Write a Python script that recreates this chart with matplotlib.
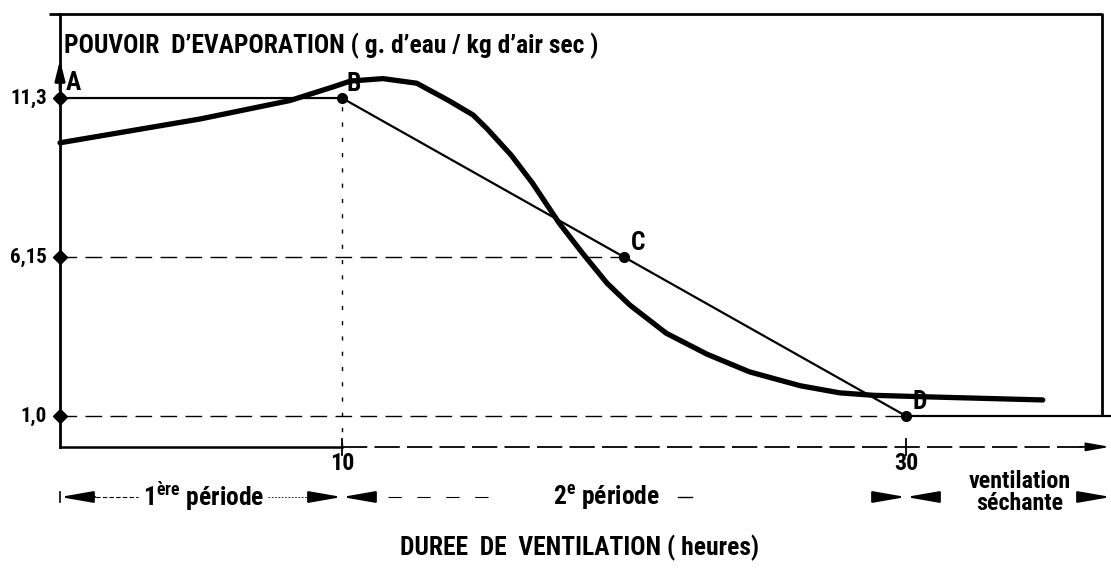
import matplotlib
matplotlib.use("Agg")
import matplotlib.pyplot as plt
from matplotlib import font_manager as fm

# ---------------- data ----------------
# thin piecewise line A-B-C-D then horizontal
line_x = [0, 10, 20, 30, 37.3]
line_y = [11.3, 11.3, 6.15, 1.0, 1.0]
point_x = [0, 10, 20, 30]
point_y = [11.3, 11.3, 6.15, 1.0]
point_labels = ["A", "B", "C", "D"]

# thick curve (measured evaporation power)
curve_x = [0, 4.96, 8.16, 9.68, 10.3, 11.45, 12.65, 13.8, 14.65, 15.15, 16.0,
           16.75, 17.7, 18.55, 19.4, 20.2, 21.5, 22.95, 24.45, 26.25,
           27.65, 28.85, 30.75, 34.85]
curve_y = [9.85, 10.62, 11.22, 11.66, 11.85, 11.93, 11.78, 11.21, 10.75, 10.3, 9.45,
           8.55, 7.25, 6.25, 5.3, 4.6, 3.68, 3.0, 2.43, 1.98,
           1.75, 1.67, 1.62, 1.52]

ytick_vals = [11.3, 6.15, 1.0]
ytick_labels = ["11,3", "6,15", "1,0"]
xtick_vals = [10, 30]
xtick_labels = ["10", "30"]

# ---------------- font choice ----------------
avail = fm.fontManager.ttflist
names = {f.name for f in avail}
FONT = ["DejaVu Sans"]
STRETCH = "normal"
for cand in ["Liberation Sans Narrow", "DejaVu Sans Condensed", "Roboto Condensed",
             "Open Sans Condensed"]:
    if cand in names:
        FONT = [cand, "DejaVu Sans"]
        break
else:
    if any(f.name == "DejaVu Sans" and str(f.stretch) in ("condensed", "semi-condensed")
           for f in avail):
        STRETCH = "condensed"

# ---------------- figure ----------------
W, H = 1111, 573
fig = plt.figure(figsize=(W / 100, H / 100), dpi=100)
ax = fig.add_axes([0, 0, 1, 1])
PX_X = 28.2     # pixels per hour
PX_Y = 30.87    # pixels per g/kg
X0 = 60         # pixel of x=0
Y1 = 416        # pixel (from top) of y=1.0
ax.set_xlim(-X0 / PX_X, (W - X0) / PX_X)
ax.set_ylim(1 - (H - Y1) / PX_Y, 1 + Y1 / PX_Y)
ax.axis("off")

def px(xp):
    return (xp - X0) / PX_X

def py(yp):
    return 1 + (Y1 - yp) / PX_Y

tk = dict(family=FONT, fontweight="bold", color="black", fontstretch=STRETCH)
texts = []

def T(x, y, s, size, **kw):
    t = ax.text(x, y, s, fontsize=size, **tk, **kw)
    texts.append((t, size))
    return t

# frame (box) around the plot
ax.plot([px(49), px(1102), px(1102)], [py(14), py(14), 1.0],
        color="black", lw=2, solid_capstyle="butt")

# y axis with arrow
ax.plot([0, 0], [0, py(14)], color="black", lw=2)
ax.annotate("", xy=(0, py(60)), xytext=(0, py(90)),
            arrowprops=dict(arrowstyle="-|>,head_length=1.2,head_width=0.3",
                            color="black", lw=2, shrinkA=0, shrinkB=0))

# x axis
ax.plot([0, 10], [0, 0], color="black", lw=1.8)
ax.plot([10, px(1095)], [0, 0], color="black", lw=1.3, dashes=(14, 4))
ax.annotate("", xy=(px(1110), 0), xytext=(px(1080), 0),
            arrowprops=dict(arrowstyle="-|>,head_length=1.4,head_width=0.25",
                            color="black", lw=1.3, shrinkA=0, shrinkB=0))
for xv, lab in zip(xtick_vals, xtick_labels):
    ax.plot([xv, xv], [-0.25, 0.25], color="black", lw=1.3)
    T(xv, py(463), lab, 16, ha="center", va="center")

# guide lines
ax.plot([0, 20], [6.15, 6.15], color="black", lw=1.0, dashes=(12, 6))
ax.plot([0, 30], [1.0, 1.0], color="black", lw=1.0, dashes=(12, 6))
ax.plot([10, 10], [0, 11.3], color="black", lw=1.0, dashes=(3, 8))

# y tick labels with markers on axis
for yv, lab in zip(ytick_vals, ytick_labels):
    ax.plot([0], [yv], marker="D", ms=7, color="black")
    T(px(47), yv, lab, 14, ha="right", va="center")

# thin line A-B-C-D
ax.plot(line_x, line_y, color="black", lw=1.6)
ax.plot(point_x, point_y, "o", ms=7, color="black")

# thick curve
ax.plot(curve_x, curve_y, color="black", lw=3.8, solid_capstyle="round",
        solid_joinstyle="round")

# point labels
lab_off = {"A": (6, -15), "B": (4, -14), "C": (7, -14), "D": (6, -14)}
for xv, yv, lab in zip(point_x, point_y, point_labels):
    dx, dy = lab_off[lab]
    T(xv + dx / PX_X, yv - dy / PX_Y, lab, 17, ha="left", va="center")

# y-axis title
title = T(px(64), py(46), "POUVOIR  D\u2019EVAPORATION ( g. d\u2019eau / kg d\u2019air sec )",
          17, ha="left", va="center")

# period annotations
yrow = py(497)
ahead = "-|>,head_length=2.0,head_width=0.35"
def arrow(tip, tail):
    ax.annotate("", xy=(tip, yrow), xytext=(tail, yrow),
                arrowprops=dict(arrowstyle=ahead, color="black", lw=1.5,
                                shrinkA=0, shrinkB=0))

# period 1
ax.plot([0, 0], [yrow - 0.15, yrow + 0.15], color="black", lw=1.2)
arrow(0, px(95))
ax.plot([px(89), px(138)], [yrow, yrow], color="black", lw=0.8, dashes=(4, 2))
T(px(143), yrow, "1$^{\\mathregular{\u00e8re}}$ p\u00e9riode", 17, ha="left", va="center")
ax.plot([px(268), px(312)], [yrow, yrow], color="black", lw=0.6, dashes=(2, 2))
arrow(10, px(318))
# period 2
arrow(10, px(372))
ax.plot([px(388), px(500)], [yrow, yrow], color="black", lw=0.8, dashes=(12, 14))
T(px(553), yrow, "2$^{\\mathregular{e}}$ p\u00e9riode", 17, ha="left", va="center")
ax.plot([px(678), px(692)], [yrow, yrow], color="black", lw=1.0)
arrow(30, px(880))
# period 3
arrow(30, px(936))
T(px(1020), py(482), "ventilation", 16, ha="center", va="center")
T(px(1020), py(503), "s\u00e9chante", 16, ha="center", va="center")
arrow(px(1111), px(1088))

# x-axis title
T(px(580), py(548), "DUREE  DE  VENTILATION ( heures)", 17, ha="center", va="center")

# scale all text so that the title width matches the reference (~535 px)
fig.canvas.draw()
w = title.get_window_extent(fig.canvas.get_renderer()).width
f = 535.0 / w
for t, s in texts:
    t.set_fontsize(s * f)

fig.savefig("out.png", dpi=100, facecolor="white")
